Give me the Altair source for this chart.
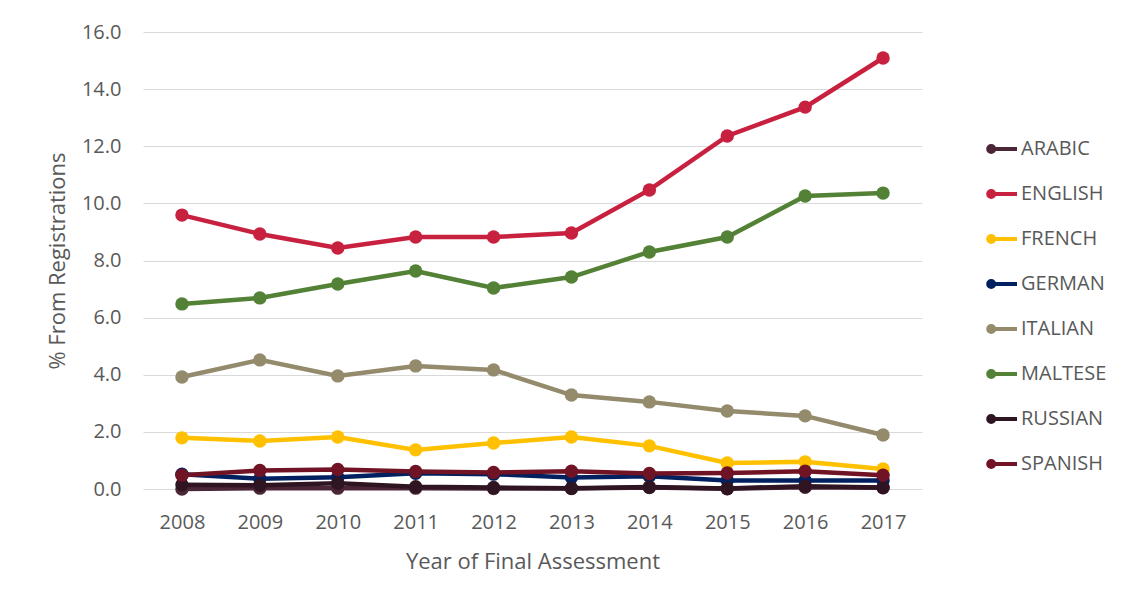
import altair as alt
import pandas as pd

years = ["2008", "2009", "2010", "2011", "2012", "2013", "2014", "2015", "2016", "2017"]
languages = ["ARABIC", "ENGLISH", "FRENCH", "GERMAN", "ITALIAN", "MALTESE", "RUSSIAN", "SPANISH"]
arabic = [0.00, 0.03, 0.03, 0.03, 0.02, 0.02, 0.05, 0.01, 0.06, 0.04]
english = [9.59, 8.93, 8.44, 8.82, 8.82, 8.96, 10.47, 12.36, 13.37, 15.09]
french = [1.79, 1.68, 1.82, 1.37, 1.61, 1.82, 1.51, 0.91, 0.95, 0.70]
german = [0.52, 0.36, 0.41, 0.55, 0.52, 0.40, 0.45, 0.30, 0.30, 0.30]
italian = [3.92, 4.52, 3.96, 4.31, 4.17, 3.29, 3.05, 2.73, 2.56, 1.89]
maltese = [6.48, 6.69, 7.18, 7.63, 7.04, 7.42, 8.30, 8.82, 10.26, 10.36]
russian = [0.15, 0.13, 0.20, 0.08, 0.05, 0.03, 0.07, 0.02, 0.10, 0.05]
spanish = [0.48, 0.65, 0.68, 0.61, 0.58, 0.62, 0.54, 0.56, 0.62, 0.48]
colors = ["#4B2637", "#C8203F", "#FFC000", "#002060", "#948A6C", "#538135", "#2E1521", "#701324"]

series = [arabic, english, french, german, italian, maltese, russian, spanish]
rows = []
for lang, vals in zip(languages, series):
    for y, v in zip(years, vals):
        rows.append({"Year": y, "Language": lang, "Value": v})
df = pd.DataFrame(rows)

FONT = "Open Sans"
TXT = "#595959"

legend_symbol = "M-1,0 L1,0 M-0.92,0 a0.2,0.2 0 1,0 0.4,0 a0.2,0.2 0 1,0 -0.4,0"

base = alt.Chart(df).encode(
    x=alt.X("Year:O", sort=years,
            scale=alt.Scale(type="point", padding=0.5),
            axis=alt.Axis(title="Year of Final Assessment", labelAngle=0, ticks=False,
                          domain=False, grid=False, labelPadding=23, titlePadding=19)),
    y=alt.Y("Value:Q", scale=alt.Scale(domain=[0, 16], nice=False),
            axis=alt.Axis(title="% From Registrations", format=".1f", values=[0, 2, 4, 6, 8, 10, 12, 14, 16],
                          ticks=False, domain=False, labelPadding=22, titlePadding=12,
                          gridColor="#D9D9D9", gridWidth=1)),
    color=alt.Color("Language:N", sort=languages,
                    scale=alt.Scale(domain=languages, range=colors),
                    legend=alt.Legend(title=None, orient="none", legendX=842, legendY=100,
                                      symbolType=legend_symbol, symbolSize=900, symbolStrokeWidth=4,
                                      rowPadding=16, labelFontSize=20, labelFont=FONT,
                                      labelColor=TXT, labelOffset=2)),
    order=alt.Order("Year:O"),
)

lines = base.mark_line(strokeWidth=4.5)
points = base.mark_circle(size=180, opacity=1)

chart = alt.layer(lines, points).properties(
    width=779, height=457,
    background="white",
    autosize=alt.AutoSizeParams(type="none"),
    padding={"left": 135, "top": 24, "right": 202, "bottom": 108},
).configure_view(stroke=None).configure_axis(
    labelFont=FONT, labelFontSize=20, labelColor=TXT,
    titleFont=FONT, titleFontSize=22, titleColor=TXT, titleFontWeight="normal",
)

chart.save("out.html", embed_options={"renderer": "svg", "actions": False})
